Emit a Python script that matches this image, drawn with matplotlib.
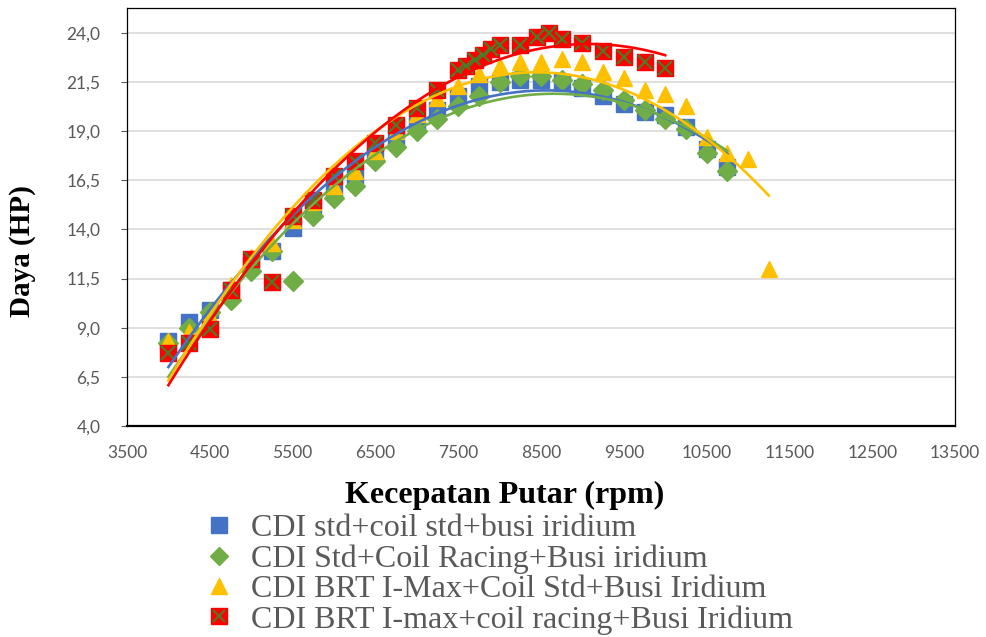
import numpy as np
import matplotlib
matplotlib.use("Agg")
import matplotlib.pyplot as plt
from matplotlib.lines import Line2D

# ---- data ----
rpm_std = [4000, 4250, 4500, 4750, 5000, 5250, 5500, 5750, 6000, 6250, 6500, 6750, 7000, 7250,
           7500, 7750, 8000, 8250, 8500, 8750, 9000, 9250, 9500, 9750, 10000, 10250, 10500, 10750]
hp_std = [8.3, 9.3, 9.9, 10.9, 12.2, 12.9, 14.05, 15.2, 16.0, 16.7, 17.8, 18.6, 19.3, 20.1,
          20.8, 21.3, 21.5, 21.6, 21.6, 21.5, 21.2, 20.8, 20.4, 20.0, 19.8, 19.2, 18.1, 17.2]

rpm_coil = [4000, 4250, 4500, 4750, 5000, 5250, 5500, 5750, 6000, 6250, 6500, 6750, 7000, 7250,
            7500, 7750, 8000, 8250, 8500, 8750, 9000, 9250, 9500, 9750, 10000, 10250, 10500, 10750]
hp_coil = [8.2, 9.0, 9.8, 10.4, 11.9, 12.9, 11.4, 14.7, 15.6, 16.2, 17.5, 18.2, 19.0, 19.6,
           20.3, 20.8, 21.5, 21.8, 21.8, 21.6, 21.4, 21.1, 20.6, 20.1, 19.6, 19.1, 17.9, 17.0]

rpm_brt = [4000, 4250, 4500, 4750, 5000, 5250, 5500, 5750, 6000, 6250, 6500, 6750, 7000, 7250,
           7500, 7750, 8000, 8250, 8500, 8750, 9000, 9250, 9500, 9750, 10000, 10250, 10500, 10750,
           11000, 11250]
hp_brt = [8.3, 8.8, 9.6, 11.2, 12.6, 13.3, 14.5, 15.4, 16.2, 17.0, 18.0, 19.0, 19.9, 20.7,
          21.3, 21.9, 22.3, 22.5, 22.5, 22.7, 22.5, 22.0, 21.7, 21.1, 20.9, 20.3, 18.7, 17.9,
          17.6, 12.0]

rpm_brt_coil = [4000, 4250, 4500, 4750, 5000, 5250, 5500, 5750, 6000, 6250, 6500, 6750, 7000,
                7250, 7500, 7600, 7700, 7800, 7900, 8000, 8250, 8450, 8600, 8750, 9000, 9250,
                9500, 9750, 10000]
hp_brt_coil = [7.7, 8.2, 8.95, 10.9, 12.5, 11.35, 14.7, 15.5, 16.7, 17.5, 18.4, 19.3, 20.2,
               21.1, 22.1, 22.3, 22.6, 22.9, 23.2, 23.4, 23.4, 23.8, 24.0, 23.7, 23.5, 23.1,
               22.8, 22.5, 22.2]

labels = ["CDI std+coil std+busi iridium",
          "CDI Std+Coil Racing+Busi iridium",
          "CDI BRT I-Max+Coil Std+Busi Iridium",
          "CDI BRT I-max+coil racing+Busi Iridium"]
y_ticks = [4.0, 6.5, 9.0, 11.5, 14.0, 16.5, 19.0, 21.5, 24.0]
x_ticks = [3500, 4500, 5500, 6500, 7500, 8500, 9500, 10500, 11500, 12500, 13500]

c_blue, c_green, c_yellow, c_red, c_x = "#4472C4", "#70AD47", "#FFC000", "#FF0000", "#4E7A27"

fig = plt.figure(figsize=(9.86, 6.37), dpi=100)
ax = fig.add_axes([127/986, 1-426/637, (955-127)/986, (426-8)/637])

ms = 12
ax.plot(rpm_std, hp_std, ls="none", marker="s", ms=ms, color=c_blue, zorder=3)
ax.plot(rpm_coil, hp_coil, ls="none", marker="D", ms=ms*0.85, color=c_green, zorder=3)
ax.plot(rpm_brt, hp_brt, ls="none", marker="^", ms=ms, color=c_yellow, zorder=3)
ax.plot(rpm_brt_coil, hp_brt_coil, ls="none", marker="s", ms=ms, color=c_red, zorder=3)
ax.plot(rpm_brt_coil, hp_brt_coil, ls="none", marker="x", ms=ms*0.8, mew=1.6, color=c_x, zorder=3.1)

# polynomial (order 2) trendlines
for xs, ys, col in [(rpm_std, hp_std, c_blue), (rpm_coil, hp_coil, c_green),
                    (rpm_brt, hp_brt, c_yellow), (rpm_brt_coil, hp_brt_coil, c_red)]:
    p = np.polyfit(xs, ys, 2)
    xx = np.linspace(min(xs), max(xs), 200)
    ax.plot(xx, np.polyval(p, xx), color=col, lw=1.9, zorder=4)

ax.set_xlim(3500, 13500)
ax.set_ylim(4, 25.27)
ax.set_yticks(y_ticks)
ax.set_yticklabels([f"{v:.1f}".replace(".", ",") for v in y_ticks])
ax.set_xticks(x_ticks)
ax.set_xticklabels([str(v) for v in x_ticks])
ax.yaxis.grid(True, color="#D9D9D9", lw=1.2)
ax.set_axisbelow(True)
ax.tick_params(axis="y", length=4, color="#595959", labelsize=12.5, labelcolor="#595959", pad=15)
ax.tick_params(axis="x", length=0, labelsize=12.5, labelcolor="#595959", pad=14)
for t in ax.get_xticklabels() + ax.get_yticklabels():
    t.set_fontfamily("Lato")
for s in ["left", "right", "top"]:
    ax.spines[s].set_color("black")
    ax.spines[s].set_linewidth(0.9)
ax.spines["bottom"].set_linewidth(1.6)

ax.set_xlabel("Kecepatan Putar (rpm)", fontfamily="Liberation Serif", fontweight="bold",
              fontsize=23, labelpad=15)
ax.xaxis.set_label_coords((505-127)/828, -(495-426)/418)
ax.set_ylabel("Daya (HP)", fontfamily="Liberation Serif", fontweight="bold",
              fontsize=21, labelpad=12)
ax.yaxis.set_label_coords(-(127-22)/828, (426-251)/418)
ax.xaxis.label.set_va("center")
ax.yaxis.label.set_va("center")

handles = [Line2D([], [], ls="none", marker="s", ms=11, color=c_blue),
           Line2D([], [], ls="none", marker="D", ms=9.5, color=c_green),
           Line2D([], [], ls="none", marker="^", ms=11, color=c_yellow),
           (Line2D([], [], ls="none", marker="s", ms=11, color=c_red),
            Line2D([], [], ls="none", marker="x", ms=9, mew=1.5, color=c_x))]
leg = fig.legend(handles, labels, loc="upper left", bbox_to_anchor=(187/986, 1-498/637),
                 frameon=False, prop={"family": "Liberation Serif", "size": 23},
                 labelspacing=0.03, handletextpad=0.5, handlelength=1.0, borderpad=0)
for t in leg.get_texts():
    t.set_color("#595959")

fig.savefig("out.png", dpi=100)
